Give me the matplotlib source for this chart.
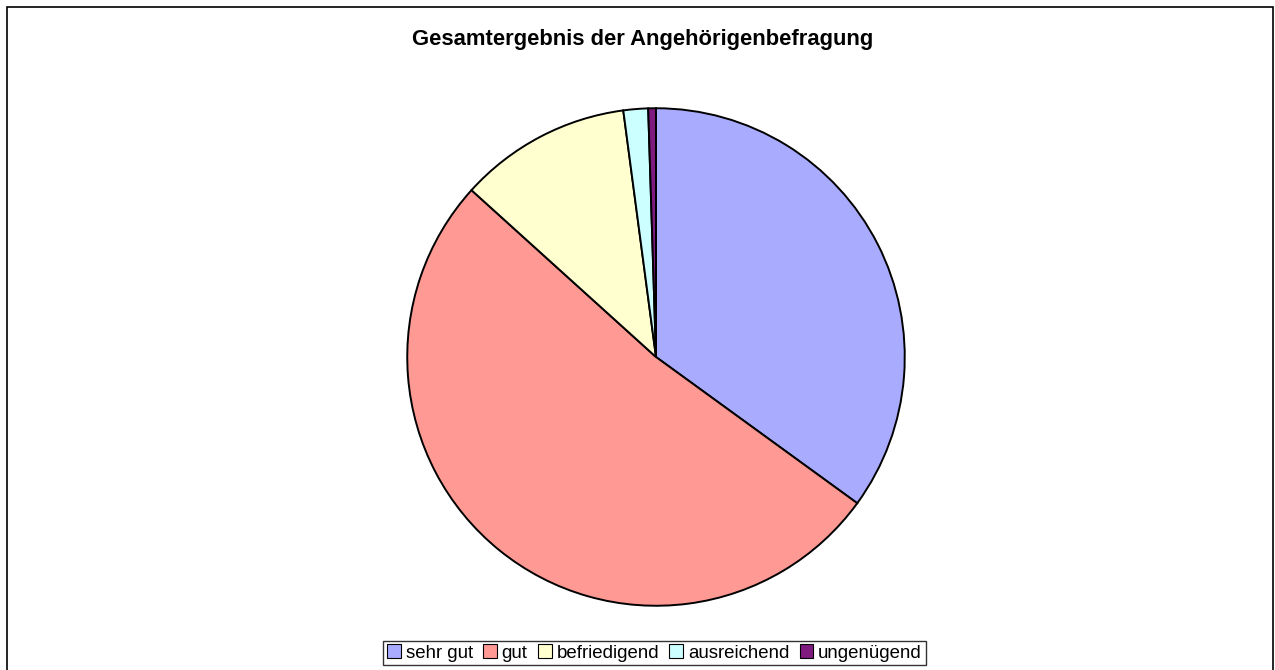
import matplotlib
matplotlib.use("Agg")
import matplotlib.pyplot as plt
from matplotlib.patches import Rectangle, Patch

categories = ["sehr gut", "gut", "befriedigend", "ausreichend", "ungenügend"]
values = [35.0, 51.7, 11.2, 1.6, 0.5]
colors = ["#A9ABFF", "#FF9994", "#FFFFD0", "#CCFFFF", "#7F1A7F"]
title = "Gesamtergebnis der Angehörigenbefragung"

plt.rcParams['font.family'] = ['Liberation Sans', 'DejaVu Sans']

W, H = 1275, 670
fig = plt.figure(figsize=(W / 100, H / 100), dpi=100)

# outer frame
fig.patches.append(Rectangle((7 / W, -0.01), (1273 - 7) / W, (H - 7) / H + 0.01,
                             transform=fig.transFigure, fill=False,
                             edgecolor="black", linewidth=1.2))

cx, cy, r = 656, 357, 250
ax = fig.add_axes([(cx - r) / W, (H - cy - r) / H, 2 * r / W, 2 * r / H])
ax.pie(values, colors=colors, startangle=90, counterclock=False, radius=1,
       wedgeprops=dict(edgecolor="black", linewidth=1.4))
ax.set_xlim(-1.005, 1.005)
ax.set_ylim(-1.005, 1.005)
ax.set_aspect("auto")
ax.axis("off")

fig.text(643 / W, 1 - 40 / H, title, ha="center", va="center",
         fontsize=15.8, fontweight="bold")

handles = [Patch(facecolor=c, edgecolor="black", linewidth=0.8) for c in colors]
leg = fig.legend(handles, categories, loc="center", ncol=5,
                 bbox_to_anchor=(654.5 / W, 1 - 653 / H), fontsize=13.4,
                 frameon=True, fancybox=False, edgecolor="black",
                 handlelength=0.75, handleheight=0.75, handletextpad=0.25,
                 columnspacing=0.55, borderpad=0.2, borderaxespad=0)
leg.get_frame().set_linewidth(1.0)

fig.savefig("out.png", dpi=100)
